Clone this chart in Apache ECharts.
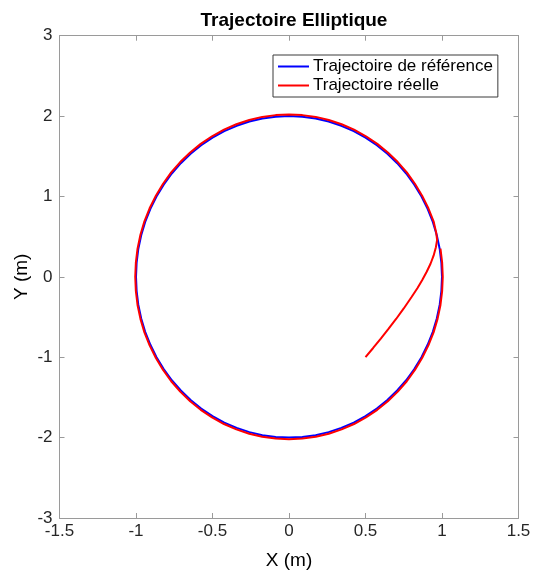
<!DOCTYPE html>
<html>
<head>
<meta charset="utf-8">
<script src="https://cdn.jsdelivr.net/npm/echarts@6/dist/echarts.min.js"></script>
<style>
html,body{margin:0;padding:0;background:#fff;}
#chart{width:533px;height:573px;}
</style>
</head>
<body>
<div id="chart"></div>
<script>
// Reference trajectory (ellipse)
var refX = [1.000,0.996,0.985,0.966,0.940,0.906,0.866,0.819,0.766,0.707,0.643,0.574,0.500,0.423,0.342,0.259,0.174,0.087,0.000,
  -0.087,-0.174,-0.259,-0.342,-0.423,-0.500,-0.574,-0.643,-0.707,-0.766,-0.819,-0.866,-0.906,-0.940,-0.966,-0.985,-0.996,-1.000,
  -0.996,-0.985,-0.966,-0.940,-0.906,-0.866,-0.819,-0.766,-0.707,-0.643,-0.574,-0.500,-0.423,-0.342,-0.259,-0.174,-0.087,0.000,
  0.087,0.174,0.259,0.342,0.423,0.500,0.574,0.643,0.707,0.766,0.819,0.866,0.906,0.940,0.966,0.985,0.996,1.000];
var refY = [0.000,0.174,0.347,0.518,0.684,0.845,1.000,1.147,1.286,1.414,1.532,1.638,1.732,1.813,1.879,1.932,1.970,1.992,2.000,
  1.992,1.970,1.932,1.879,1.813,1.732,1.638,1.532,1.414,1.286,1.147,1.000,0.845,0.684,0.518,0.347,0.174,0.000,
  -0.174,-0.347,-0.518,-0.684,-0.845,-1.000,-1.147,-1.286,-1.414,-1.532,-1.638,-1.732,-1.813,-1.879,-1.932,-1.970,-1.992,-2.000,
  -1.992,-1.970,-1.932,-1.879,-1.813,-1.732,-1.638,-1.532,-1.414,-1.286,-1.147,-1.000,-0.845,-0.684,-0.518,-0.347,-0.174,0.000];
// Actual trajectory: starts at (0.5,-1), converges, then follows the ellipse slightly outside
var realX = [0.500,0.550,0.600,0.650,0.700,0.750,0.800,0.840,0.870,0.900,0.925,0.945,0.960,0.968,0.962,
  0.945,0.911,0.870,0.823,0.770,0.711,0.646,0.577,0.503,0.425,0.344,0.260,0.175,0.087,0.000,
  -0.087,-0.175,-0.260,-0.344,-0.425,-0.503,-0.577,-0.646,-0.711,-0.770,-0.823,-0.870,-0.911,-0.945,-0.971,-0.990,-1.001,-1.005,
  -1.001,-0.990,-0.971,-0.945,-0.911,-0.870,-0.823,-0.770,-0.711,-0.646,-0.577,-0.503,-0.425,-0.344,-0.260,-0.175,-0.087,0.000,
  0.087,0.175,0.260,0.344,0.425,0.503,0.577,0.646,0.711,0.770,0.823,0.870,0.911,0.945,0.971,0.990,1.001,1.005,1.001,0.990];
var realY = [-1.000,-0.885,-0.768,-0.648,-0.524,-0.393,-0.254,-0.138,-0.042,0.063,0.163,0.263,0.368,0.460,0.550,
  0.691,0.853,1.010,1.158,1.299,1.428,1.547,1.654,1.749,1.831,1.898,1.951,1.990,2.012,2.020,
  2.012,1.990,1.951,1.898,1.831,1.749,1.654,1.547,1.428,1.299,1.158,1.010,0.853,0.691,0.523,0.350,0.176,0.000,
  -0.176,-0.350,-0.523,-0.691,-0.853,-1.010,-1.158,-1.299,-1.428,-1.547,-1.654,-1.749,-1.831,-1.898,-1.951,-1.990,-2.012,-2.020,
  -2.012,-1.990,-1.951,-1.898,-1.831,-1.749,-1.654,-1.547,-1.428,-1.299,-1.158,-1.010,-0.853,-0.691,-0.523,-0.350,-0.176,0.000,0.176,0.350];
var xTicks = [-1.5,-1,-0.5,0,0.5,1,1.5];
var yTicks = [-3,-2,-1,0,1,2,3];
var seriesNames = ['Trajectoire de référence','Trajectoire réelle'];

function pairs(xs, ys){ return xs.map(function(x,i){ return [x, ys[i]]; }); }

var axisColor = '#9a9a9a';
var labelColor = '#262626';
var font = 'Liberation Sans, Arial, sans-serif';

function xAxisDef(pos, showLabel){
  return {
    type:'value', position:pos, min:xTicks[0], max:xTicks[xTicks.length-1], interval:0.5,
    axisLine:{show:true, onZero:false, lineStyle:{color:axisColor, width:1}},
    axisTick:{show:true, inside:true, length:5, lineStyle:{color:axisColor}},
    splitLine:{show:false},
    axisLabel:{show:showLabel, color:labelColor, fontSize:17, fontFamily:font, margin:5,
      formatter:function(v){ return String(v); }},
    name: showLabel ? 'X (m)' : '', nameLocation:'middle', nameGap:33,
    nameTextStyle:{color:'#000', fontSize:19, fontFamily:font}
  };
}
function yAxisDef(pos, showLabel){
  return {
    type:'value', position:pos, min:yTicks[0], max:yTicks[yTicks.length-1], interval:1,
    axisLine:{show:true, onZero:false, lineStyle:{color:axisColor, width:1}},
    axisTick:{show:true, inside:true, length:5, lineStyle:{color:axisColor}},
    splitLine:{show:false},
    axisLabel:{show:showLabel, color:labelColor, fontSize:17, fontFamily:font, margin:7},
    name: showLabel ? 'Y (m)' : '', nameLocation:'middle', nameGap:28, nameRotate:90,
    nameMoveOverlap:false,
    nameTextStyle:{color:'#000', fontSize:19, fontFamily:font}
  };
}

var chart = echarts.init(document.getElementById('chart'), null, {renderer:'canvas'});
chart.setOption({
  animation:false,
  backgroundColor:'#fff',
  title:{text:'Trajectoire Elliptique', left:289, textAlign:'center', top:6,
    textStyle:{fontSize:19, fontWeight:'bold', color:'#000', fontFamily:font}},
  grid:{left:59.5, right:14.5, top:35.7, bottom:55, containLabel:false, outerBoundsMode:'none'},
  xAxis:[xAxisDef('bottom', true), xAxisDef('top', false)],
  yAxis:[yAxisDef('left', true), yAxisDef('right', false)],
  legend:{
    orient:'vertical', left:273, top:55, padding:[3,5,3,5], itemGap:2,
    borderColor:'#3a3a3a', borderWidth:1, backgroundColor:'#fff',
    itemWidth:31, itemHeight:2, icon:'rect',
    textStyle:{fontSize:17, color:'#000', fontFamily:font, padding:[0,0,0,-1]},
    data:seriesNames
  },
  series:[
    {name:seriesNames[0], type:'line', data:pairs(refX, refY), xAxisIndex:0, yAxisIndex:0,
     showSymbol:false, symbol:'none', lineStyle:{color:'#0000ff', width:2}, itemStyle:{color:'#0000ff'}},
    {name:seriesNames[1], type:'line', data:pairs(realX, realY), xAxisIndex:0, yAxisIndex:0,
     showSymbol:false, symbol:'none', lineStyle:{color:'#ff0000', width:2}, itemStyle:{color:'#ff0000'}}
  ]
});
</script>
</body>
</html>
